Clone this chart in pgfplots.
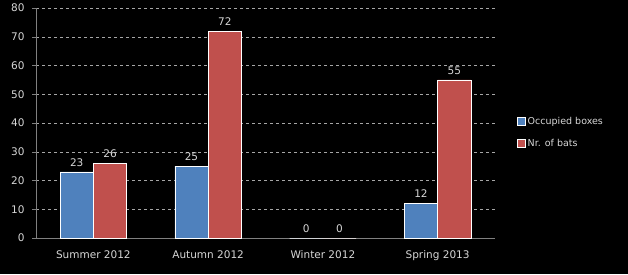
\documentclass[border=0pt]{standalone}
\usepackage{pgfplots}
\pgfplotsset{compat=1.18}
\usepackage{fontspec}
\setmainfont{DejaVu Sans}
\definecolor{cblue}{RGB}{79,129,189}
\definecolor{cred}{RGB}{192,80,77}
\definecolor{txt}{RGB}{215,215,215}
\begin{document}
\begin{tikzpicture}[x=1pt,y=1pt]
\useasboundingbox (0,0) rectangle (628,274);
\fill[black] (0,0) rectangle (628,274);
\begin{axis}[
  at={(36pt,36pt)}, anchor=south west,
  scale only axis, width=459pt, height=230pt,
  ybar=0pt, bar width=0.29,
  xmin=-0.5, xmax=3.5, ymin=0, ymax=80,
  ytick={0,10,...,80},
  xtick={0,1,2,3},
  xticklabels={Summer 2012, Autumn 2012, Winter 2012, Spring 2013},
  major x tick style={draw=none},
  extra x ticks={-0.5,0.5,1.5,2.5,3.5},
  extra x tick labels={},
  extra x tick style={major tick length=4pt, tick style={draw=gray}, grid=none},
  axis x line*=bottom, axis y line*=left,
  axis line style={gray, -},
  tick align=outside, major tick length=4pt,
  tick style={gray},
  ymajorgrids, grid style={gray!70, dashed},
  ticklabel style={font=\fontsize{10.5}{12}\selectfont, text=txt},
  /pgf/number format/assume math mode=true,
  yticklabel style={xshift=-4pt},
  xticklabel style={yshift=-5pt},
  nodes near coords,
  nodes near coords style={font=\fontsize{10.5}{12}\selectfont, text=txt, yshift=2pt},
  legend cell align=left,
  legend style={at={(478pt,125pt)}, anchor=north west, draw=none, fill=black,
    text=txt, font=\fontsize{9.5}{11}\selectfont, row sep=9pt,
    /tikz/every even column/.append style={column sep=2pt}},
  legend image code/.code={\fill[#1] (0pt,-4pt) rectangle (8pt,4pt);},
]
\addplot[fill=cblue, draw=white, line width=0.5pt] coordinates {(0,23) (1,25) (2,0) (3,12)};
\addplot[fill=cred, draw=white, line width=0.5pt] coordinates {(0,26) (1,72) (2,0) (3,55)};
\legend{Occupied boxes, Nr. of bats}
\end{axis}
\end{tikzpicture}
\end{document}
